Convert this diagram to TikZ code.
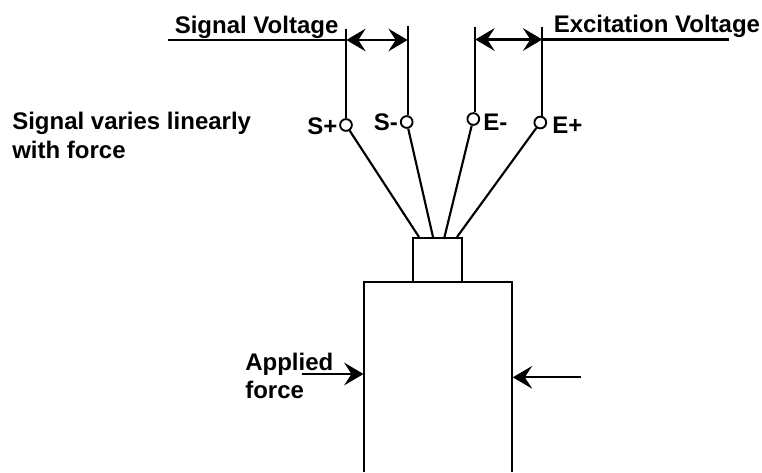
\documentclass[tikz,border=0pt]{standalone}
\usepackage{fontspec}
\setmainfont{Liberation Sans}
\usetikzlibrary{arrows.meta}
\tikzset{
  px/.style={x=0.75pt,y=-0.75pt},
  wire/.style={line width=1.6pt,draw=black},
  lbl/.style={font=\fontsize{18pt}{22pt}\selectfont\bfseries,inner sep=0pt,text=black},
  term/.style={circle,draw=black,fill=white,line width=1.4pt,inner sep=0pt,minimum size=8.8pt},
  tip/.style={-{Stealth[length=14.5pt,width=17pt,inset=5.5pt]}},
  tips/.style={{Stealth[length=14.5pt,width=17pt,inset=5.5pt]}-{Stealth[length=14.5pt,width=17pt,inset=5.5pt]}}
}
\begin{document}
\begin{tikzpicture}[px]
\useasboundingbox (0,0) rectangle (762,472);
% free ends
\coordinate (sptop) at (346.3,29);
\coordinate (smtop) at (407.7,26);
\coordinate (emtop) at (475.3,27);
\coordinate (eptop) at (542.3,27);
\coordinate (sigl) at (168,40);
\coordinate (sigr) at (346.3,40);
\coordinate (sigm) at (407.7,40);
\coordinate (exl) at (475.3,39.5);
\coordinate (exm) at (542.3,39.5);
\coordinate (exr) at (729,39.5);
\coordinate (w1) at (419,237);
\coordinate (w2) at (433,237);
\coordinate (w3) at (444,239);
\coordinate (w4) at (457,237);
\coordinate (lb) at (364,472);
\coordinate (rb) at (512,472);
\coordinate (lt) at (364,282);
\coordinate (rt) at (512,282);
\coordinate (fl) at (301.7,374);
\coordinate (fle) at (363.5,374);
\coordinate (fr) at (581,377.3);
\coordinate (fre) at (512.8,377.3);
% terminals
\node[term] (sp) at (346,125) {};
\node[term] (sm) at (406.7,122) {};
\node[term] (em) at (473.3,119) {};
\node[term] (ep) at (540.3,122.5) {};
% verticals
\draw[wire] (sptop) -- (sptop |- sp.north);
\draw[wire] (smtop) -- (smtop |- sm.north);
\draw[wire] (emtop) -- (emtop |- em.north);
\draw[wire] (eptop) -- (eptop |- ep.north);
% horizontals and dimension arrows
\draw[wire] (sigl) -- (sigr);
\draw[wire] (exm) -- (exr);
\draw[wire,tips] (sigr) -- (sigm);
\draw[wire,tips] (exl) -- (exm);
% leads
\draw[wire] (sp) -- (w1);
\draw[wire] (sm) -- (w2);
\draw[wire] (em) -- (w3);
\draw[wire] (ep) -- (w4);
% bodies
\node[draw=black,line width=1.6pt,outer sep=0pt,minimum width=36.75pt,minimum height=33.2pt,inner sep=0pt,anchor=north west] (neck) at (413.3,237.7) {};
\draw[wire] (lb) -- (lt) -- (rt) -- (rb);
% forces
\draw[wire,tip] (fl) -- (fle);
\draw[wire,tip] (fr) -- (fre);
% labels
\node[lbl,anchor=base west] (t1) at (174.5,33) {Signal Voltage};
\node[lbl,anchor=base west] (t2) at (553.5,32.5) {Excitation Voltage};
\node[lbl,anchor=base west] (t3) at (12,129) {Signal varies linearly};
\node[lbl,anchor=base west] (t4) at (12,158) {with force};
\node[lbl,anchor=base west] (t5) at (307,134) {S+};
\node[lbl,anchor=base west] (t6) at (373.5,130) {S-};
\node[lbl,anchor=base west] (t7) at (483,130) {E-};
\node[lbl,anchor=base west] (t8) at (552,133) {E+};
\node[lbl,anchor=base west] (t9) at (245,370) {Applied};
\node[lbl,anchor=base west] (t10) at (245,398) {force};
\end{tikzpicture}
\end{document}
